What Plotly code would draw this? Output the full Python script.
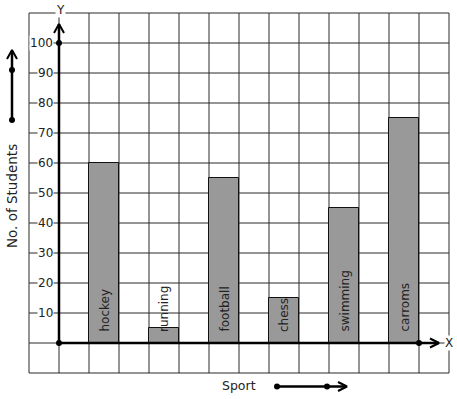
import plotly.graph_objects as go

# ---- data ----
sports = ["hockey", "running", "football", "chess", "swimming", "carroms"]
students = [60, 5, 55, 15, 45, 75]
bar_left = [1, 3, 5, 7, 9, 11]          # grid column where each bar starts
y_ticks = [10, 20, 30, 40, 50, 60, 70, 80, 90, 100]
y_title = "No. of Students"
x_title = "Sport"

W, H = 457, 399
OX, OY = 59, 343        # pixel of origin
SX, SY = 30, 3          # px per x unit, px per y unit

def px_x(p):
    return (p - OX) / SX

def px_y(p):
    return (OY - p) / SY

FONT = "DejaVu Sans"
TXT = "#222222"
fig = go.Figure()

# bars
fig.add_trace(go.Bar(
    x=[b + 0.5 for b in bar_left], y=students, width=1,
    marker=dict(color="#999999", line=dict(color="#111111", width=1)),
    hoverinfo="skip", showlegend=False))

shapes = []
# grid
for gx in range(-1, 14):
    shapes.append(dict(type="line", x0=gx, x1=gx, y0=-10, y1=110, layer="below",
                       line=dict(color="#2a2a2a", width=1)))
for gy in range(-10, 111, 10):
    shapes.append(dict(type="line", x0=-1, x1=13, y0=gy, y1=gy, layer="below",
                       line=dict(color="#2a2a2a", width=1)))
# axes
shapes.append(dict(type="line", x0=0, x1=0, y0=0, y1=px_y(24), line=dict(color="black", width=2.5)))
shapes.append(dict(type="line", x0=0, x1=px_x(439), y0=0, y1=0, line=dict(color="black", width=2.5)))
# left decorative arrow
shapes.append(dict(type="line", x0=px_x(12), x1=px_x(12), y0=px_y(120), y1=px_y(51), line=dict(color="black", width=2.5)))
# bottom decorative arrow
shapes.append(dict(type="line", x0=px_x(277), x1=px_x(346), y0=px_y(386.5), y1=px_y(386.5), line=dict(color="black", width=2.5)))

def chevron(pts):
    fig.add_trace(go.Scatter(x=[px_x(a) for a, b in pts], y=[px_y(b) for a, b in pts],
                             mode="lines", line=dict(color="black", width=2),
                             hoverinfo="skip", showlegend=False))

chevron([(54, 33), (59, 24), (64, 33)])
chevron([(430, 338.5), (439, 343), (430, 347.5)])
chevron([(7, 59), (12, 50), (17, 59)])
chevron([(338, 382), (347, 386.5), (338, 391)])

# dots
fig.add_trace(go.Scatter(
    x=[0, 0, 12, px_x(12), px_x(12), px_x(277), px_x(327)],
    y=[0, 100, 0, px_y(70), px_y(120), px_y(386.5), px_y(386.5)],
    mode="markers", marker=dict(color="black", size=6),
    hoverinfo="skip", showlegend=False))

ann = []
for t in y_ticks:
    ann.append(dict(x=px_x(54), y=t, text=str(t), showarrow=False, xanchor="right",
                    yanchor="middle", bgcolor="white", borderpad=0,
                    font=dict(family=FONT, size=12, color=TXT)))
for s, b in zip(sports, bar_left):
    ann.append(dict(x=b + 0.5, y=px_y(333), text=s, showarrow=False, textangle=-90,
                    xanchor="center", yanchor="bottom", borderpad=0,
                    font=dict(family=FONT, size=12, color=TXT)))
ann.append(dict(x=px_x(60.5), y=px_y(10), text="Y", showarrow=False, bgcolor="white",
                borderpad=0, font=dict(family=FONT, size=12, color=TXT)))
ann.append(dict(x=px_x(448.5), y=0, text="X", showarrow=False, bgcolor="white",
                borderpad=0, font=dict(family=FONT, size=12, color=TXT)))
ann.append(dict(x=px_x(12), y=px_y(196), text=y_title, showarrow=False, textangle=-90,
                font=dict(family=FONT, size=13.5, color=TXT)))
ann.append(dict(x=px_x(238.5), y=px_y(385), text=x_title, showarrow=False,
                font=dict(family=FONT, size=12.5, color=TXT)))

fig.update_layout(
    width=W, height=H, margin=dict(l=0, r=0, t=0, b=0),
    paper_bgcolor="white", plot_bgcolor="white",
    xaxis=dict(range=[px_x(0), px_x(W)], visible=False, fixedrange=True),
    yaxis=dict(range=[px_y(H), px_y(0)], visible=False, fixedrange=True),
    shapes=shapes, annotations=ann, bargap=0)

fig.write_html("out.html", config={"displayModeBar": False},
               post_script="document.body.style.margin='0';document.body.style.overflow='hidden';")
